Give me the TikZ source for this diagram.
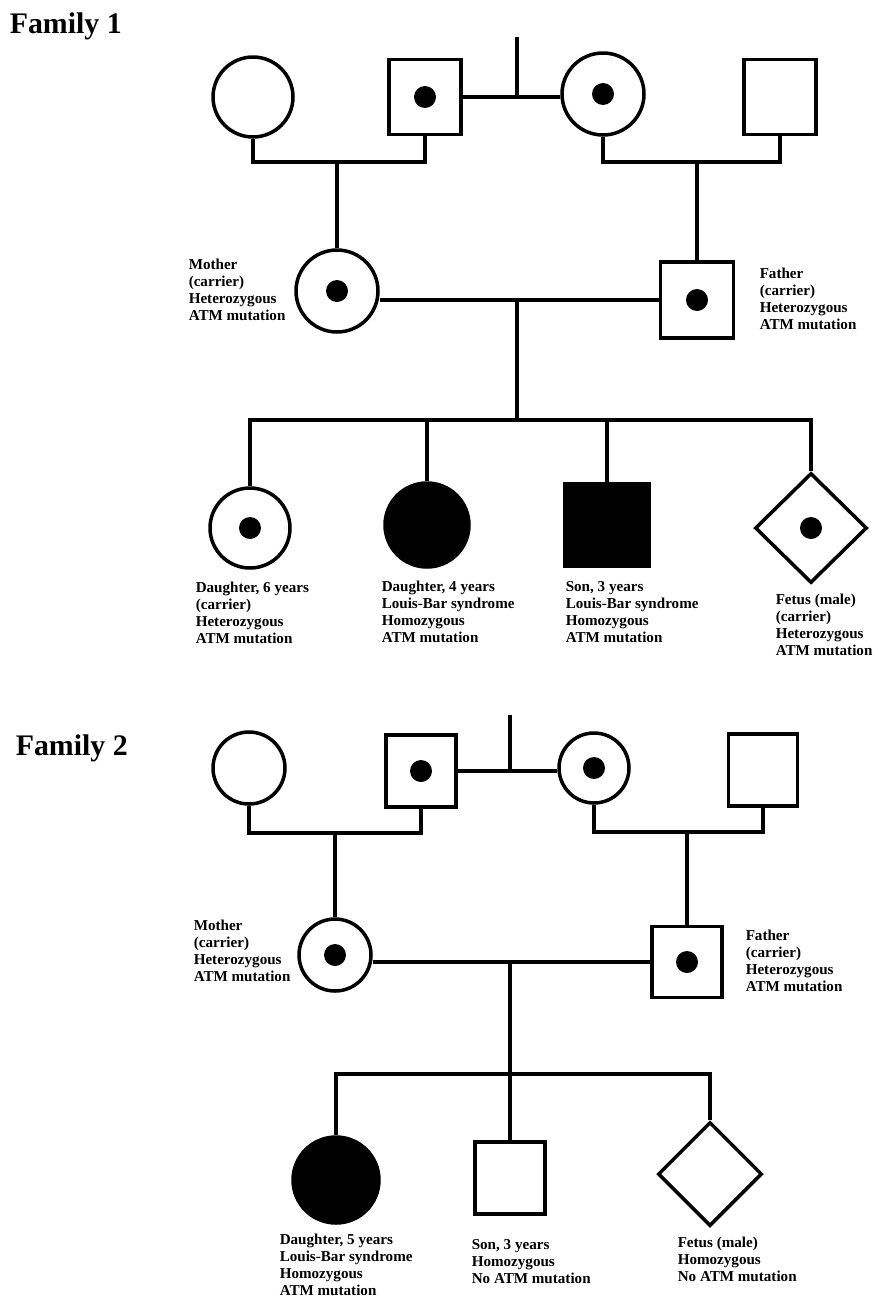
\documentclass[tikz,border=0pt]{standalone}
\usepackage{fontspec}
\setmainfont{Liberation Serif}
\usetikzlibrary{shapes.geometric}
\begin{document}
\begin{tikzpicture}[x=0.02cm,y=-0.02cm,line width=2pt,
  fem/.style={draw,circle,inner sep=0,minimum size=1.6cm,fill=white},
  mal/.style={draw,rectangle,inner sep=0,minimum width=1.44cm,minimum height=1.5cm,fill=white},
  fet/.style={draw,diamond,inner sep=0,minimum width=2.24cm,minimum height=2.2cm,fill=white},
  aff/.style={fill=black},
  car/.style={path picture={\fill[black] (path picture bounding box.center) circle (0.22cm);}},
  lbl/.style={anchor=base west,align=left,inner sep=0,font=\fontsize{8.6}{9.5}\selectfont\bfseries},
  ttl/.style={anchor=base west,inner sep=0,font=\fontsize{17}{20}\selectfont\bfseries}]
\useasboundingbox[fill=white] (0,0) rectangle (877,1305);
%%% Family 1
\node[ttl] (t1) at (8,33) {Family 1};
% grandparents
\node[fem] (gm1) at (253,97) {};
\node[mal,car] (gf1) at (425,97) {};
\node[fem,car,minimum size=1.64cm] (gm2) at (603,94) {};
\node[mal] (gf2) at (780,97) {};
\coordinate (top1) at (517,37);
\draw (top1) -- (top1 |- gf1.east);
\draw (gf1.east) -- (gm2.west |- gf1.east);
\coordinate (s1) at (337,162);
\coordinate (s2) at (697,162);
\draw (gm1.south) |- (s1) -| (gf1.south);
\draw (gm2.south) |- (s2) -| (gf2.south);
% parents
\node[fem,car,minimum size=1.64cm] (mo1) at (337,291) {};
\node[mal,car,minimum width=1.46cm,minimum height=1.52cm] (fa1) at (697,300) {};
\draw (s1) -- (mo1.north);
\draw (s2) -- (fa1.north);
\draw (mo1.east |- fa1.west) -- (fa1.west);
% labels: base = last line
\node[lbl] (mo1l) at (187,320) {Mother\\(carrier)\\Heterozygous\\ATM mutation};
\node[lbl] (fa1l) at (758,329) {Father\\(carrier)\\Heterozygous\\ATM mutation};
% children
\coordinate (c1) at (517,420);
\draw (c1 |- fa1.west) -- (c1);
\node[fem,car] (k1) at (250,528) {};
\node[fem,aff,minimum size=1.68cm] (k2) at (427,525) {};
\node[mal,aff,minimum width=1.7cm,minimum height=1.66cm] (k3) at (607,525) {};
\node[fet,car] (k4) at (811,528) {};
\draw (k1.north) |- (c1) -| (k4.north);
\draw (k2.north) -- (k2.north |- c1);
\draw (k3.north) -- (k3.north |- c1);
\node[lbl] (k1l) at (194,643) {Daughter, 6 years\\(carrier)\\Heterozygous\\ATM mutation};
\node[lbl] (k2l) at (380,642) {Daughter, 4 years\\Louis-Bar syndrome\\Homozygous\\ATM mutation};
\node[lbl] (k3l) at (564,642) {Son, 3 years\\Louis-Bar syndrome\\Homozygous\\ATM mutation};
\node[lbl] (k4l) at (774,655) {Fetus (male)\\(carrier)\\Heterozygous\\ATM mutation};
%%% Family 2
\node[ttl] (t2) at (14,755) {Family 2};
% grandparents
\node[fem,minimum size=1.44cm] (gm3) at (249,768) {};
\node[mal,car,minimum width=1.4cm,minimum height=1.44cm] (gf3) at (421,771) {};
\node[fem,car,minimum size=1.4cm] (gm4) at (594,768) {};
\node[mal,minimum width=1.38cm,minimum height=1.44cm] (gf4) at (763,770) {};
\coordinate (top2) at (510,715);
\draw (top2) -- (top2 |- gf3.east);
\draw (gf3.east) -- (gm4.west |- gf3.east);
\coordinate (s3) at (335,833);
\coordinate (s4) at (687,832);
\draw (gm3.south) |- (s3) -| (gf3.south);
\draw (gm4.south) |- (s4) -| (gf4.south);
% parents
\node[fem,car,minimum size=1.44cm] (mo2) at (335,955) {};
\node[mal,car,minimum width=1.4cm,minimum height=1.42cm] (fa2) at (687,962) {};
\draw (s3) -- (mo2.north);
\draw (s4) -- (fa2.north);
\draw (mo2.east |- fa2.west) -- (fa2.west);
\node[lbl] (mo2l) at (192,981) {Mother\\(carrier)\\Heterozygous\\ATM mutation};
\node[lbl] (fa2l) at (744,991) {Father\\(carrier)\\Heterozygous\\ATM mutation};
% children
\coordinate (c2) at (510,1074);
\node[fem,aff,minimum size=1.72cm] (k5) at (336,1180) {};
\node[mal,minimum width=1.4cm,minimum height=1.44cm] (k6) at (510,1178) {};
\node[fet,minimum width=2.08cm,minimum height=2.08cm] (k7) at (710,1174) {};
\draw (c2 |- fa2.west) -- (k6.north);
\draw (k5.north) |- (c2) -| (k7.north);
\node[lbl] (k5l) at (278,1295) {Daughter, 5 years\\Louis-Bar syndrome\\Homozygous\\ATM mutation};
\node[lbl] (k6l) at (470,1283) {Son, 3 years\\Homozygous\\No ATM mutation};
\node[lbl] (k7l) at (676,1281) {Fetus (male)\\Homozygous\\No ATM mutation};
\end{tikzpicture}
\end{document}
